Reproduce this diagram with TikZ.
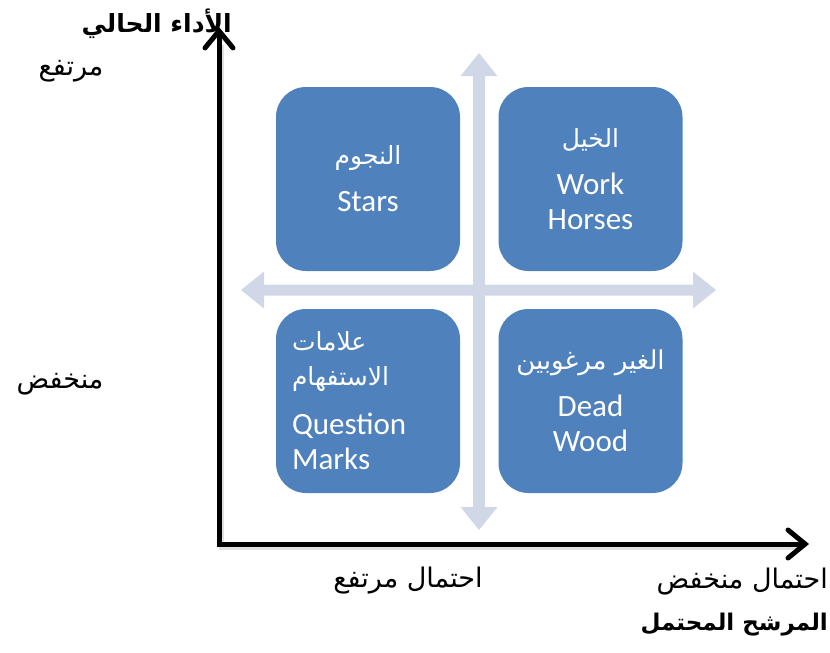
\documentclass[tikz,border=0pt]{standalone}
\usepackage{fontspec}
\usetikzlibrary{arrows.meta}
\TeXXeTstate=1
\setmainfont{Liberation Sans}
\newfontfamily\enfont{Carlito}
\newfontfamily\arabicfont[Script=Arabic]{DejaVu Sans}
\definecolor{boxblue}{RGB}{79,129,189}
\definecolor{crossgray}{RGB}{208,216,232}
\tikzset{
  quad/.style={fill=boxblue, draw=none, rounded corners=30pt, minimum width=184pt, minimum height=184pt,
    text=white, font=\enfont\fontsize{31}{35}\selectfont, align=center, inner sep=0pt},
  axis/.style={line width=5pt, black, line join=miter,
    {Straight Barb[length=17pt,width=28pt,line cap=round]}-{Straight Barb[length=17pt,width=28pt,line cap=round]}},
  axisshadow/.style={line width=5pt, black!20, opacity=0.6},
  lab/.style={font=\arabicfont\fontsize{27}{30}\selectfont, inner sep=0pt},
  labbold/.style={font=\arabicfont\bfseries\fontsize{25}{28}\selectfont, inner sep=0pt}
}
\begin{document}
\begin{tikzpicture}[x=1pt,y=-1pt]
\useasboundingbox (0,0) rectangle (830,653);
% cross arrows
\fill[crossgray] (479,53) -- (497.5,76) -- (485,76) -- (485,507) -- (497.5,507) -- (479,530)
  -- (460.5,507) -- (473,507) -- (473,76) -- (460.5,76) -- cycle;
\fill[crossgray] (241,290) -- (264,271.5) -- (264,284.5) -- (693,284.5) -- (693,271.5) -- (716,290)
  -- (693,308.5) -- (693,295.5) -- (264,295.5) -- (264,308.5) -- cycle;
% boxes
\node[quad] (stars) at (368,179) {{\arabicfont\fontsize{25}{30}\selectfont\beginR النجوم\endR}\\[12pt]Stars};
\node[quad] (work) at (590.5,179) {{\arabicfont\fontsize{25}{30}\selectfont\beginR الخيل\endR}\\[12pt]Work\\Horses};
\node[quad, align=left, text width=152pt, inner xsep=16pt] (qm) at (368,401)
  {{\arabicfont\fontsize{25}{33}\selectfont\beginR علامات\endR\\\beginR الاستفهام\endR}\\[14pt]Question\\Marks};
\node[quad] (dead) at (590.5,401) {{\arabicfont\fontsize{26}{30}\selectfont\beginR الغير مرغوبين\endR}\\[12pt]Dead\\Wood};
% axes
\coordinate (ytop) at (219,27);
\coordinate (origin) at (219,544);
\coordinate (xend) at (809,544);
\draw[axisshadow] ([shift={(2,3)}]ytop) ++(0,15) -- ([shift={(2,3)}]origin) -- ([shift={(-12,3)}]xend);
\draw[axis] (ytop) -- (origin) -- (xend);
% labels
\node[labbold, anchor=east] (ytitle) at (232,24) {\beginR الأداء الحالي\endR};
\node[lab] (yhigh) at (71,71) {\beginR مرتفع\endR};
\node[lab] (ylow) at (60,384) {\beginR منخفض\endR};
\node[lab] (xhigh) at (408,581) {\beginR احتمال مرتفع\endR};
\node[lab, anchor=east] (xlow) at (828,582) {\beginR احتمال منخفض\endR};
\node[labbold, anchor=east, font=\arabicfont\bfseries\fontsize{23}{26}\selectfont] (xtitle) at (828,625) {\beginR المرشح المحتمل\endR};
\end{tikzpicture}
\end{document}
